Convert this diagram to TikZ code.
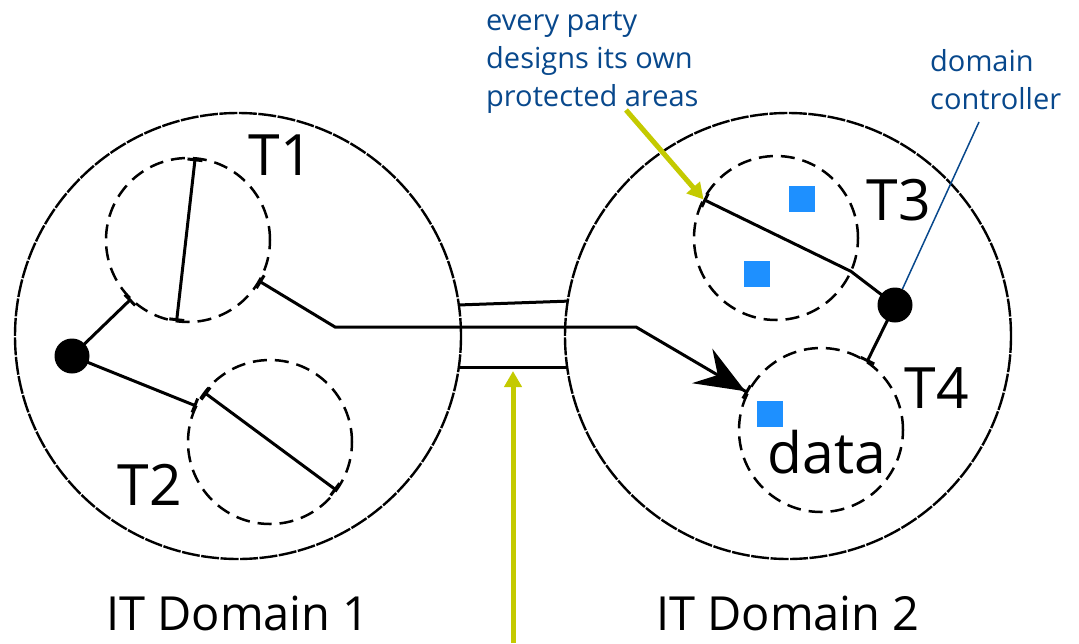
\documentclass[tikz,border=0pt]{standalone}
\usepackage{fontspec}
\setmainfont{Open Sans}
\usetikzlibrary{positioning, arrows.meta}

\definecolor{noteblue}{RGB}{8,72,140}
\definecolor{itemblue}{RGB}{30,144,255}
\definecolor{hintgreen}{RGB}{196,202,0}

\begin{document}
\begin{tikzpicture}
            [x=1pt, y=-1pt,
             itdomain/.style={circle, draw, line width=2.4pt, dash pattern=on 18pt off 1.5pt,
                            minimum size=446pt, inner sep=0pt, outer sep=0pt},
             areazone/.style={circle, draw, line width=2.5pt, dash pattern=on 14pt off 8pt,
                          minimum size=164pt, inner sep=0pt, outer sep=0pt},
             ctldot/.style={circle, fill=black, minimum size=35pt, inner sep=0pt},
             dataitem/.style={fill=itemblue, minimum size=26pt, inner sep=0pt},
             flow/.style={line width=3pt},
             barend/.style={-{Bar[width=15pt]}},
             barboth/.style={{Bar[width=15pt]}-{Bar[width=15pt]}},
             hintarrow/.style={draw=hintgreen, line width=5pt, -{Triangle[length=16pt, width=17pt]}},
             ctlpointer/.style={draw=noteblue, line width=1.5pt},
             zonetag/.style={font=\fontsize{57}{60}\selectfont, inner sep=0pt},
             domtitle/.style={font=\fontsize{47}{50}\selectfont, inner sep=0pt},
             callout/.style={font=\fontsize{29}{38}\selectfont, text=noteblue, align=left, inner sep=0pt}]

            \useasboundingbox (0,0) rectangle (1079,643);

            % the two domains and their zones
            \node[itdomain] (dom1) at (238,336) {};
            \node[itdomain] (dom2) at (788,336) {};

            \node[areazone] (t1) at (188,240) {};
            \node[areazone] (t2) at (270,442) {};
            \node[areazone] (t3) at (776,238) {};
            \node[areazone] (t4) at (821,430) {};

            \node[ctldot] (c1) at (72,356) {};
            \node[ctldot] (c2) at (895,305) {};

            \node[dataitem] (s1) at (802,199) {};
            \node[dataitem] (s2) at (757,274) {};
            \node[dataitem] (s3) at (770,414) {};

            \node[zonetag] (l1) at (281,155) {T1};
            \node[zonetag] (l2) at (150,485) {T2};
            \node[zonetag] (l3) at (899,200) {T3};
            \node[zonetag] (l4) at (937,388) {T4};
            \node[zonetag] (data) at (827,452) {data};

            \node[domtitle] (n1) at (238,613) {IT Domain 1};
            \node[domtitle] (n2) at (788,613) {IT Domain 2};

            \node[callout, anchor=west] (party) at (486,62) {every party\\designs its own\\protected areas};
            \node[callout, anchor=west] (ctrl) at (930,80) {domain\\controller};

            % channel between the domains
            \draw[flow] (dom1.8.5) -- (dom2.171.5);
            \draw[flow] (dom1.-8.5) -- (dom2.188.5);

            % left domain
            \draw[flow, barend] (c1.center) -- (t1.226);
            \draw[flow, barend] (c1.center) -- (t2.154);
            \draw[flow, barboth] (t1.85) -- (t1.262);
            \draw[flow, barboth] (t2.143) -- (t2.324);

            % flow into T4
            \coordinate (k1) at (335,327);
            \coordinate (k2) at (636,327);
            \draw[flow, {Bar[width=15pt]}-{Stealth[length=50pt, width=40pt, inset=18pt]Bar[width=15pt]}]
                (t1.330) -- (k1) -- (k2) -- (t4.153);

            % right domain
            \draw[flow, {Bar[width=15pt]}-] (t3.152) -- (t3.336) -- (c2.center);
            \draw[flow, barend] (c2.center) -- (t4.56);

            % callouts
            \coordinate (ptail) at (626,110);
            \draw[hintarrow] (ptail) -- (t3.152);
            \coordinate (gtail) at (513,643);
            \coordinate (gtip) at (513,371);
            \draw[hintarrow] (gtail) -- (gtip);
            \coordinate (ctip) at (979,122);
            \draw[ctlpointer] (c2.65) -- (ctip);
        \end{tikzpicture}
\end{document}
